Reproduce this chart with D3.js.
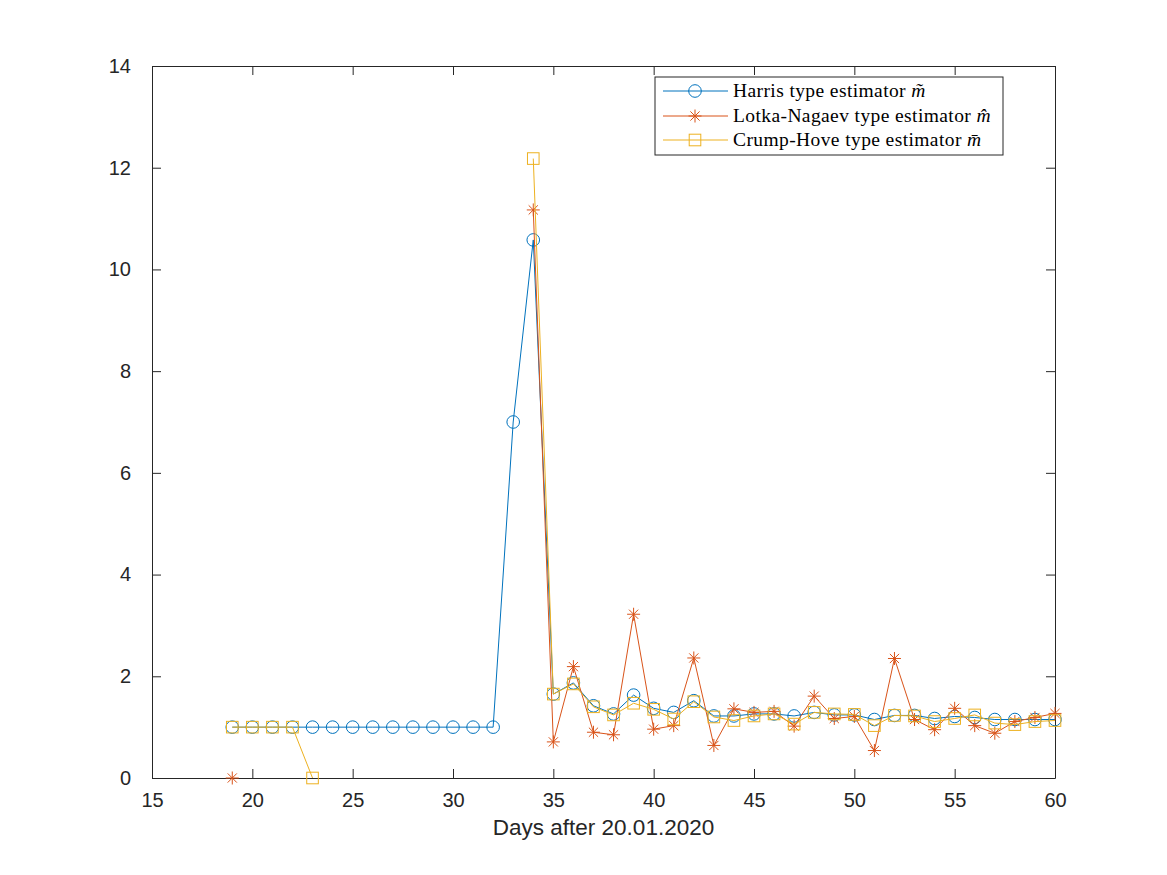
<!DOCTYPE html>
<html>
<head>
<meta charset="utf-8">
<script src="https://cdn.jsdelivr.net/npm/d3@7"></script>
<style>
  body { margin: 0; background: #fff; }
  svg { display: block; }
</style>
</head>
<body>
<svg id="main-svg" width="1167" height="875"></svg>
<script>
// days after 20.01.2020
let DAYS = d3.range(19, 61);

// Harris type estimator (tilde m)
let HARRIS = [1, 1, 1, 1, 1, 1, 1, 1, 1, 1, 1, 1, 1, 1,
    7.0, 10.58, 1.65, 1.87, 1.42, 1.26, 1.63, 1.37, 1.29, 1.52, 1.22, 1.22,
    1.26, 1.26, 1.22, 1.29, 1.24, 1.24, 1.15, 1.23, 1.23, 1.17, 1.21, 1.19,
    1.15, 1.15, 1.15, 1.15];

// Lotka-Nagaev type estimator (hat m), gaps are null
let LOTKA = [0, null, null, null, null, null, null, null, null, null, null, null, null, null,
    null, 11.17, 0.71, 2.19, 0.90, 0.85, 3.22, 0.96, 1.03, 2.36, 0.64, 1.36,
    1.29, 1.31, 1.02, 1.61, 1.17, 1.21, 0.54, 2.35, 1.15, 0.95, 1.37, 1.03,
    0.88, 1.11, 1.19, 1.27];

// Crump-Hove type estimator (bar m)
let CRUMP = [1, 1, 1, 1, 0, null, null, null, null, null, null, null, null, null,
    null, 12.18, 1.65, 1.85, 1.40, 1.24, 1.47, 1.35, 1.16, 1.50, 1.20, 1.13,
    1.22, 1.26, 1.06, 1.29, 1.26, 1.25, 1.03, 1.23, 1.22, 1.11, 1.17, 1.24,
    1.08, 1.05, 1.11, 1.13];

let X_TICKS = [15, 20, 25, 30, 35, 40, 45, 50, 55, 60];
let Y_TICKS = [0, 2, 4, 6, 8, 10, 12, 14];

let SERIES_NAMES = ['Harris type estimator ', 'Lotka-Nagaev type estimator ', 'Crump-Hove type estimator '];
let SERIES_SYMBOLS = ['m\u0303', 'm\u0302', 'm\u0304'];

let COLORS = ['#0072BD', '#D95319', '#EDB120'];
let MARKERS = ['circle', 'star', 'square'];
let TEXT_COLOR = '#262626';

let LEFT = 152, RIGHT = 1055, TOP = 66, BOTTOM = 778;
let TICK_LEN = 9;

let svg = d3.select('#main-svg');

let x = d3.scaleLinear().domain([15, 60]).range([LEFT, RIGHT]);
let y = d3.scaleLinear().domain([0, 14]).range([BOTTOM, TOP]);

// axes: ticks pointing inward, mirrored on top and right
let tickFont = 'Liberation Sans, Arial, sans-serif';

let xBottom = svg.append('g')
    .attr('transform', `translate(0,${BOTTOM})`)
    .call(d3.axisBottom(x).tickValues(X_TICKS).tickSizeInner(-TICK_LEN).tickSizeOuter(0).tickPadding(TICK_LEN + 6));
let xTop = svg.append('g')
    .attr('transform', `translate(0,${TOP})`)
    .call(d3.axisTop(x).tickValues(X_TICKS).tickSizeInner(-TICK_LEN).tickSizeOuter(0).tickFormat(''));
let yLeft = svg.append('g')
    .attr('transform', `translate(${LEFT},0)`)
    .call(d3.axisLeft(y).tickValues(Y_TICKS).tickSizeInner(-TICK_LEN).tickSizeOuter(0).tickPadding(TICK_LEN + 12));
let yRight = svg.append('g')
    .attr('transform', `translate(${RIGHT},0)`)
    .call(d3.axisRight(y).tickValues(Y_TICKS).tickSizeInner(-TICK_LEN).tickSizeOuter(0).tickFormat(''));

[xBottom, xTop, yLeft, yRight].forEach(g => {
    g.select('.domain').attr('stroke', TEXT_COLOR).attr('stroke-width', 1);
    g.selectAll('.tick line').attr('stroke', TEXT_COLOR).attr('stroke-width', 1);
    g.selectAll('.tick text')
        .attr('fill', TEXT_COLOR)
        .attr('font-family', tickFont)
        .attr('font-size', 20);
});
yLeft.selectAll('.tick text').attr('text-anchor', 'end');

// x label
svg.append('text')
    .attr('x', (LEFT + RIGHT) / 2)
    .attr('y', 835)
    .attr('text-anchor', 'middle')
    .attr('fill', TEXT_COLOR)
    .attr('font-family', tickFont)
    .attr('font-size', 22.5)
    .text('Days after 20.01.2020');

// marker drawing helper
function drawMarker(g, kind, color) {
    if (kind === 'circle') {
        g.append('circle').attr('r', 6.3)
            .attr('fill', 'none').attr('stroke', color).attr('stroke-width', 1);
    } else if (kind === 'square') {
        g.append('rect').attr('x', -5.8).attr('y', -5.8).attr('width', 11.6).attr('height', 11.6)
            .attr('fill', 'none').attr('stroke', color).attr('stroke-width', 1);
    } else {
        let r = 6.5;
        let d = r * Math.SQRT1_2;
        g.append('path')
            .attr('d', `M${-r},0L${r},0M0,${-r}L0,${r}M${-d},${-d}L${d},${d}M${-d},${d}L${d},${-d}`)
            .attr('fill', 'none').attr('stroke', color).attr('stroke-width', 1);
    }
}

let plot = svg.append('g');
let allSeries = [HARRIS, LOTKA, CRUMP];

allSeries.forEach((values, i) => {
    let points = DAYS.map((day, k) => ({ day: day, value: values[k] }));
    let line = d3.line()
        .defined(p => p.value != null)
        .x(p => x(p.day))
        .y(p => y(p.value));

    let g = plot.append('g');
    g.append('path')
        .datum(points)
        .attr('d', line)
        .attr('fill', 'none')
        .attr('stroke', COLORS[i])
        .attr('stroke-width', 1);

    g.selectAll('g.marker')
        .data(points.filter(p => p.value != null))
        .enter().append('g')
        .attr('class', 'marker')
        .attr('transform', p => `translate(${x(p.day)},${y(p.value)})`)
        .each(function () { drawMarker(d3.select(this), MARKERS[i], COLORS[i]); });
});

// legend
let legend = svg.append('g').attr('transform', 'translate(655,77)');
legend.append('rect')
    .attr('width', 348).attr('height', 78)
    .attr('fill', '#fff').attr('stroke', TEXT_COLOR).attr('stroke-width', 1);

let ROW_Y = [14, 39, 63];
SERIES_NAMES.forEach((name, i) => {
    let row = legend.append('g').attr('transform', `translate(0,${ROW_Y[i]})`);
    row.append('line')
        .attr('x1', 8).attr('x2', 73)
        .attr('stroke', COLORS[i]).attr('stroke-width', 1);
    let m = row.append('g').attr('transform', 'translate(40,0)');
    drawMarker(m, MARKERS[i], COLORS[i]);
    let t = row.append('text')
        .attr('x', 78).attr('y', 6)
        .attr('fill', '#000')
        .attr('font-family', 'Liberation Serif, DejaVu Serif, serif')
        .attr('font-size', 19.5)
        .attr('letter-spacing', 0.4)
        .text(name);
    t.append('tspan').attr('font-style', 'italic').text(SERIES_SYMBOLS[i]);
});
</script>
</body>
</html>
